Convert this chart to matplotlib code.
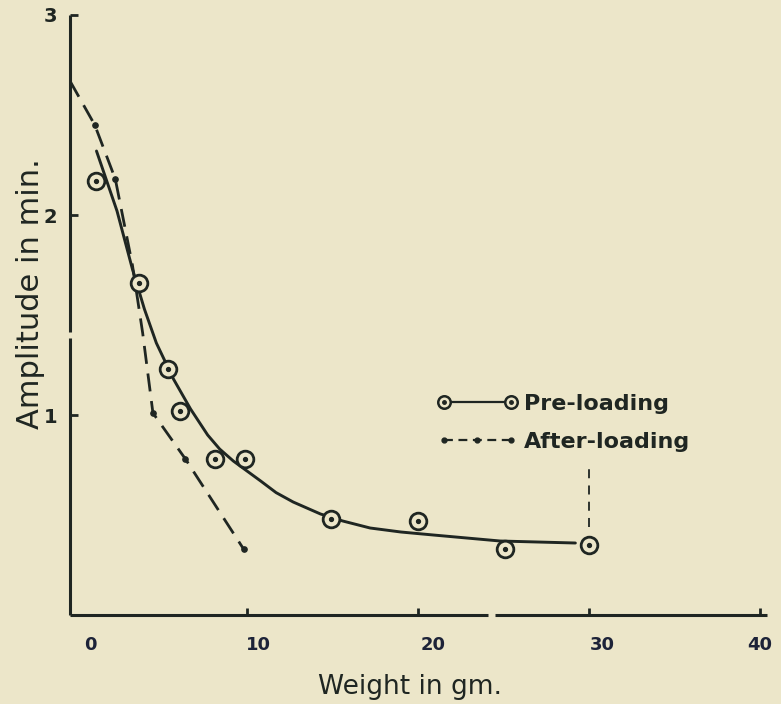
"""
Pulse amplitude against load, before and after loading.
Redrawn from an old hand-lettered figure.
"""

import matplotlib
matplotlib.use("Agg")
import matplotlib.pyplot as plt
import matplotlib.transforms as mtransforms
from matplotlib.legend_handler import HandlerLine2D, HandlerTuple
from matplotlib.lines import Line2D

PAPER = "#ece6c9"
INK = "#1f2622"
NUM_INK = "#1d2338"

# pre-loading readings (weight in gm, amplitude in min.)
pre_weight = [1.2, 3.7, 5.4, 6.1, 8.1, 9.9, 14.9, 20.0, 25.1, 30.0]
pre_amp = [2.17, 1.66, 1.23, 1.02, 0.78, 0.78, 0.48, 0.47, 0.33, 0.35]

# the freehand curve drawn through the pre-loading readings
pre_curve_weight = [1.2, 2.4, 3.3, 4.0, 4.7, 5.7, 6.7, 7.7, 8.4, 9.2, 10.8,
                    11.7, 12.7, 14.3, 15.6, 17.2, 19.0, 20.9, 24.8, 29.2]
pre_curve_amp = [2.32, 2.02, 1.73, 1.53, 1.36, 1.18, 1.03, 0.90, 0.83, 0.77,
                 0.67, 0.612, 0.565, 0.505, 0.47, 0.435, 0.415, 0.40, 0.37,
                 0.36]

# after-loading: dash-dot curve, dots only where a reading was taken
after_weight = [-0.35, 1.1, 2.3, 3.3, 3.9, 4.5, 6.4, 9.8]
after_amp = [2.67, 2.45, 2.18, 1.75, 1.41, 1.01, 0.78, 0.33]
after_dots = [1, 2, 5, 6, 7]

# stray dashed mark above the last pre-loading reading
guide_weight = 30.0
guide_amp = [0.44, 0.74]

x_ticks = [10, 20, 30, 40]
x_labels = ["0", "10", "20", "30", "40"]
x_label_pos = [0, 10, 20, 30, 40]
x_label_nudge = [14, 11, 15, 13, 0]     # px, the hand lettering sits right of the ticks
y_ticks = [1, 2, 3]
y_labels = ["1", "2", "3"]

X_MIN, X_MAX = -0.35, 40.4
Y_MIN, Y_MAX = 0.0, 3.0
X_GAP = (24.1, 24.5)      # little breaks in the hand-ruled axes
Y_GAP = (1.387, 1.417)

plt.rcParams["font.family"] = ["DejaVu Sans"]

fig = plt.figure(figsize=(7.81, 7.04), dpi=100, facecolor=PAPER)
ax = fig.add_axes([0.0896, 0.1264, 0.8924, 0.8523])
ax.set_facecolor(PAPER)
ax.set_xlim(X_MIN, X_MAX)
ax.set_ylim(Y_MIN, Y_MAX)
for s in ax.spines.values():
    s.set_visible(False)

# axes ruled by hand, with their small breaks
axis_kw = dict(color=INK, lw=2.2, solid_capstyle="butt", clip_on=False, zorder=3)
ax.plot([X_MIN, X_GAP[0]], [Y_MIN, Y_MIN], **axis_kw)
ax.plot([X_GAP[1], X_MAX], [Y_MIN, Y_MIN], **axis_kw)
ax.plot([X_MIN, X_MIN], [Y_MIN, Y_GAP[0]], **axis_kw)
ax.plot([X_MIN, X_MIN], [Y_GAP[1], Y_MAX], **axis_kw)

ax.xaxis.remove_overlapping_locs = False
ax.set_xticks(x_ticks)
ax.set_xticks(x_label_pos, minor=True)
ax.set_xticklabels([], minor=False)
ax.set_xticklabels(x_labels, minor=True)
ax.tick_params(axis="x", which="major", direction="in", length=5, width=2,
               color=INK)
ax.tick_params(axis="x", which="minor", length=0, pad=15, labelsize=13,
               labelcolor=NUM_INK)
for lab, nudge in zip(ax.get_xticklabels(minor=True), x_label_nudge):
    shift = mtransforms.ScaledTranslation(nudge / 100, 0, fig.dpi_scale_trans)
    lab.set_transform(lab.get_transform() + shift)
    lab.set_fontweight("bold")

ax.set_yticks(y_ticks)
ax.set_yticklabels(y_labels)
ax.tick_params(axis="y", direction="in", length=6, width=2, color=INK,
               pad=9, labelsize=14, labelcolor=INK)
for lab in ax.get_yticklabels():
    lab.set_fontweight("bold")

ax.set_xlabel("Weight in gm.", fontsize=19, color=INK)
ax.xaxis.set_label_coords(0.488, -0.098)
ax.set_ylabel("Amplitude in min.", fontsize=22, color=INK)
ax.yaxis.set_label_coords(-0.036, 0.535)

# curves
ax.plot(pre_curve_weight, pre_curve_amp, color=INK, lw=2.1,
        solid_capstyle="round", solid_joinstyle="round", zorder=4)
ax.plot(after_weight, after_amp, color=INK, lw=2.0, ls=(0, (6.5, 3.5)),
        marker="o", ms=3.8, markevery=after_dots, zorder=4)
ax.vlines(guide_weight, guide_amp[0], guide_amp[1], color=INK, lw=1.3,
          linestyles=(0, (5, 4)), zorder=4)

# readings: open circle with a dot in the middle
ax.plot(pre_weight, pre_amp, ls="none", marker="o", ms=12, mfc=PAPER,
        mec=INK, mew=2.0, zorder=5)
ax.plot(pre_weight, pre_amp, ls="none", marker="o", ms=2.8, color=INK,
        zorder=6)

pre_handle = (
    Line2D([], [], color=INK, lw=1.6, marker="o", ms=9, mfc=PAPER, mec=INK,
           mew=1.8),
    Line2D([], [], ls="none", marker="o", ms=2.5, color=INK),
)
after_handle = Line2D([], [], color=INK, lw=1.6, ls=(0, (4, 2.5)),
                      marker="o", ms=3.5)
leg = ax.legend(
    [pre_handle, after_handle], ["Pre-loading", "After-loading"],
    handler_map={tuple: HandlerTuple(ndivide=1, pad=0),
                 after_handle: HandlerLine2D(numpoints=3)},
    loc="upper left", bbox_to_anchor=(0.527, 0.368), frameon=False,
    numpoints=2, handlelength=3.6, handletextpad=0.3, labelspacing=0.8,
    borderpad=0, borderaxespad=0,
    prop={"size": 16, "weight": "bold"},
)
for t in leg.get_texts():
    t.set_color(INK)

fig.savefig("out.png", dpi=100, facecolor=PAPER)
